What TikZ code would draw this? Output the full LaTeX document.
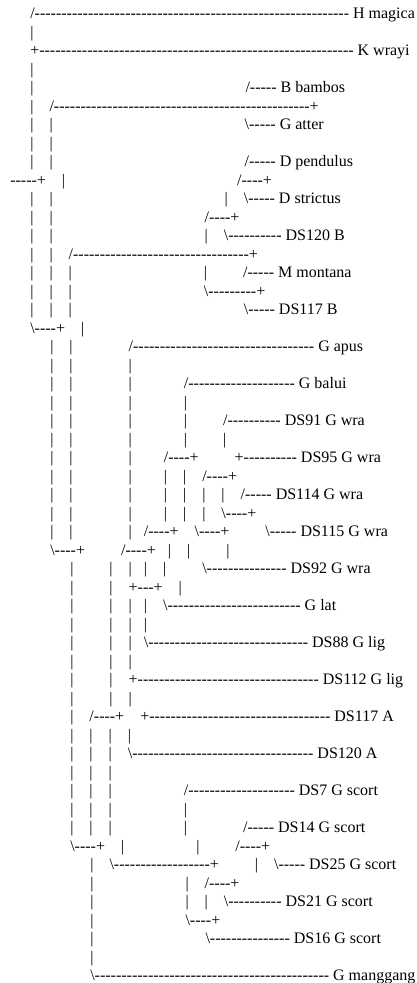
\documentclass[tikz,border=0pt]{standalone}
\usepackage{fontspec}
\setmainfont{Liberation Serif}
\ExplSyntaxOn
\cs_new:Npn \Hy #1 { \prg_replicate:nn {#1} { \hbox{-} } }
\ExplSyntaxOff
\newcommand\Sp[1]{\kern\numexpr #1*4\relax pt}
\newcommand\Vb{\hbox{|}}
\newcommand\Sl{\hbox{/}}
\newcommand\Bs{\hbox{\textbackslash}}
\newcommand\Pl{\hbox{+}}
\tikzset{treerow/.style={anchor=base west, inner sep=0pt, outer sep=0pt,
  font=\fontsize{16pt}{18.5pt}\selectfont, text=black}}
\begin{document}
\begin{tikzpicture}[x=1pt,y=-1pt]
\useasboundingbox (0,0) rectangle (417,983);
\def\xo{10.3}
\def\yo{18.5}
\def\dy{18.5}
\node[treerow] (r0) at (\xo,\yo+0*\dy) {\Sp{5}\Sl\Hy{59} H magica};
\node[treerow] (r1) at (\xo,\yo+1*\dy) {\Sp{5}\Vb};
\node[treerow] (r2) at (\xo,\yo+2*\dy) {\Sp{5}\Pl\Hy{59} K wrayi};
\node[treerow] (r3) at (\xo,\yo+3*\dy) {\Sp{5}\Vb};
\node[treerow] (r4) at (\xo,\yo+4*\dy) {\Sp{5}\Vb\Sp{53}\Sl\Hy{5} B bambos};
\node[treerow] (r5) at (\xo,\yo+5*\dy) {\Sp{5}\Vb\Sp{4}\Sl\Hy{48}\Pl};
\node[treerow] (r6) at (\xo,\yo+6*\dy) {\Sp{5}\Vb\Sp{4}\Vb\Sp{48}\Bs\Hy{5} G atter};
\node[treerow] (r7) at (\xo,\yo+7*\dy) {\Sp{5}\Vb\Sp{4}\Vb};
\node[treerow] (r8) at (\xo,\yo+8*\dy) {\Sp{5}\Vb\Sp{4}\Vb\Sp{48}\Sl\Hy{5} D pendulus};
\node[treerow] (r9) at (\xo,\yo+9*\dy) {\Hy{5}\Pl\Sp{4}\Vb\Sp{43}\Sl\Hy{4}\Pl};
\node[treerow] (r10) at (\xo,\yo+10*\dy) {\Sp{5}\Vb\Sp{4}\Vb\Sp{43}\Vb\Sp{4}\Bs\Hy{5} D strictus};
\node[treerow] (r11) at (\xo,\yo+11*\dy) {\Sp{5}\Vb\Sp{4}\Vb\Sp{38}\Sl\Hy{4}\Pl};
\node[treerow] (r12) at (\xo,\yo+12*\dy) {\Sp{5}\Vb\Sp{4}\Vb\Sp{38}\Vb\Sp{4}\Bs\Hy{10} DS120 B};
\node[treerow] (r13) at (\xo,\yo+13*\dy) {\Sp{5}\Vb\Sp{4}\Vb\Sp{4}\Sl\Hy{33}\Pl};
\node[treerow] (r14) at (\xo,\yo+14*\dy) {\Sp{5}\Vb\Sp{4}\Vb\Sp{4}\Vb\Sp{33}\Vb\Sp{9}\Sl\Hy{5} M montana};
\node[treerow] (r15) at (\xo,\yo+15*\dy) {\Sp{5}\Vb\Sp{4}\Vb\Sp{4}\Vb\Sp{33}\Bs\Hy{9}\Pl};
\node[treerow] (r16) at (\xo,\yo+16*\dy) {\Sp{5}\Vb\Sp{4}\Vb\Sp{4}\Vb\Sp{43}\Bs\Hy{5} DS117 B};
\node[treerow] (r17) at (\xo,\yo+17*\dy) {\Sp{5}\Bs\Hy{4}\Pl\Sp{4}\Vb};
\node[treerow] (r18) at (\xo,\yo+18*\dy) {\Sp{10}\Vb\Sp{4}\Vb\Sp{14}\Sl\Hy{34} G apus};
\node[treerow] (r19) at (\xo,\yo+19*\dy) {\Sp{10}\Vb\Sp{4}\Vb\Sp{14}\Vb};
\node[treerow] (r20) at (\xo,\yo+20*\dy) {\Sp{10}\Vb\Sp{4}\Vb\Sp{14}\Vb\Sp{13}\Sl\Hy{20} G balui};
\node[treerow] (r21) at (\xo,\yo+21*\dy) {\Sp{10}\Vb\Sp{4}\Vb\Sp{14}\Vb\Sp{13}\Vb};
\node[treerow] (r22) at (\xo,\yo+22*\dy) {\Sp{10}\Vb\Sp{4}\Vb\Sp{14}\Vb\Sp{13}\Vb\Sp{9}\Sl\Hy{10} DS91 G wra};
\node[treerow] (r23) at (\xo,\yo+23*\dy) {\Sp{10}\Vb\Sp{4}\Vb\Sp{14}\Vb\Sp{13}\Vb\Sp{9}\Vb};
\node[treerow] (r24) at (\xo,\yo+24*\dy) {\Sp{10}\Vb\Sp{4}\Vb\Sp{14}\Vb\Sp{8}\Sl\Hy{4}\Pl\Sp{9}\Pl\Hy{10} DS95 G wra};
\node[treerow] (r25) at (\xo,\yo+25*\dy) {\Sp{10}\Vb\Sp{4}\Vb\Sp{14}\Vb\Sp{8}\Vb\Sp{4}\Vb\Sp{4}\Sl\Hy{4}\Pl};
\node[treerow] (r26) at (\xo,\yo+26*\dy) {\Sp{10}\Vb\Sp{4}\Vb\Sp{14}\Vb\Sp{8}\Vb\Sp{4}\Vb\Sp{4}\Vb\Sp{4}\Vb\Sp{4}\Sl\Hy{5} DS114 G wra};
\node[treerow] (r27) at (\xo,\yo+27*\dy) {\Sp{10}\Vb\Sp{4}\Vb\Sp{14}\Vb\Sp{8}\Vb\Sp{4}\Vb\Sp{4}\Vb\Sp{4}\Bs\Hy{4}\Pl};
\node[treerow] (r28) at (\xo,\yo+28*\dy) {\Sp{10}\Vb\Sp{4}\Vb\Sp{14}\Vb\Sp{3}\Sl\Hy{4}\Pl\Sp{4}\Bs\Hy{4}\Pl\Sp{9}\Bs\Hy{5} DS115 G wra};
\node[treerow] (r29) at (\xo,\yo+29*\dy) {\Sp{10}\Bs\Hy{4}\Pl\Sp{9}\Sl\Hy{4}\Pl\Sp{3}\Vb\Sp{4}\Vb\Sp{9}\Vb};
\node[treerow] (r30) at (\xo,\yo+30*\dy) {\Sp{15}\Vb\Sp{9}\Vb\Sp{4}\Vb\Sp{3}\Vb\Sp{4}\Vb\Sp{9}\Bs\Hy{15} DS92 G wra};
\node[treerow] (r31) at (\xo,\yo+31*\dy) {\Sp{15}\Vb\Sp{9}\Vb\Sp{4}\Pl\Hy{3}\Pl\Sp{4}\Vb};
\node[treerow] (r32) at (\xo,\yo+32*\dy) {\Sp{15}\Vb\Sp{9}\Vb\Sp{4}\Vb\Sp{3}\Vb\Sp{4}\Bs\Hy{25} G lat};
\node[treerow] (r33) at (\xo,\yo+33*\dy) {\Sp{15}\Vb\Sp{9}\Vb\Sp{4}\Vb\Sp{3}\Vb};
\node[treerow] (r34) at (\xo,\yo+34*\dy) {\Sp{15}\Vb\Sp{9}\Vb\Sp{4}\Vb\Sp{3}\Bs\Hy{30} DS88 G lig};
\node[treerow] (r35) at (\xo,\yo+35*\dy) {\Sp{15}\Vb\Sp{9}\Vb\Sp{4}\Vb};
\node[treerow] (r36) at (\xo,\yo+36*\dy) {\Sp{15}\Vb\Sp{9}\Vb\Sp{4}\Pl\Hy{34} DS112 G lig};
\node[treerow] (r37) at (\xo,\yo+37*\dy) {\Sp{15}\Vb\Sp{9}\Vb\Sp{4}\Vb};
\node[treerow] (r38) at (\xo,\yo+38*\dy) {\Sp{15}\Vb\Sp{4}\Sl\Hy{4}\Pl\Sp{4}\Pl\Hy{34} DS117 A};
\node[treerow] (r39) at (\xo,\yo+39*\dy) {\Sp{15}\Vb\Sp{4}\Vb\Sp{4}\Vb\Sp{4}\Vb};
\node[treerow] (r40) at (\xo,\yo+40*\dy) {\Sp{15}\Vb\Sp{4}\Vb\Sp{4}\Vb\Sp{4}\Bs\Hy{34} DS120 A};
\node[treerow] (r41) at (\xo,\yo+41*\dy) {\Sp{15}\Vb\Sp{4}\Vb\Sp{4}\Vb};
\node[treerow] (r42) at (\xo,\yo+42*\dy) {\Sp{15}\Vb\Sp{4}\Vb\Sp{4}\Vb\Sp{18}\Sl\Hy{20} DS7 G scort};
\node[treerow] (r43) at (\xo,\yo+43*\dy) {\Sp{15}\Vb\Sp{4}\Vb\Sp{4}\Vb\Sp{18}\Vb};
\node[treerow] (r44) at (\xo,\yo+44*\dy) {\Sp{15}\Vb\Sp{4}\Vb\Sp{4}\Vb\Sp{18}\Vb\Sp{14}\Sl\Hy{5} DS14 G scort};
\node[treerow] (r45) at (\xo,\yo+45*\dy) {\Sp{15}\Bs\Hy{4}\Pl\Sp{4}\Vb\Sp{18}\Vb\Sp{9}\Sl\Hy{4}\Pl};
\node[treerow] (r46) at (\xo,\yo+46*\dy) {\Sp{20}\Vb\Sp{4}\Bs\Hy{18}\Pl\Sp{9}\Vb\Sp{4}\Bs\Hy{5} DS25 G scort};
\node[treerow] (r47) at (\xo,\yo+47*\dy) {\Sp{20}\Vb\Sp{23}\Vb\Sp{4}\Sl\Hy{4}\Pl};
\node[treerow] (r48) at (\xo,\yo+48*\dy) {\Sp{20}\Vb\Sp{23}\Vb\Sp{4}\Vb\Sp{4}\Bs\Hy{10} DS21 G scort};
\node[treerow] (r49) at (\xo,\yo+49*\dy) {\Sp{20}\Vb\Sp{23}\Bs\Hy{4}\Pl};
\node[treerow] (r50) at (\xo,\yo+50*\dy) {\Sp{20}\Vb\Sp{28}\Bs\Hy{15} DS16 G scort};
\node[treerow] (r51) at (\xo,\yo+51*\dy) {\Sp{20}\Vb};
\node[treerow] (r52) at (\xo,\yo+52*\dy) {\Sp{20}\Bs\Hy{44} G manggang};
\end{tikzpicture}
\end{document}
